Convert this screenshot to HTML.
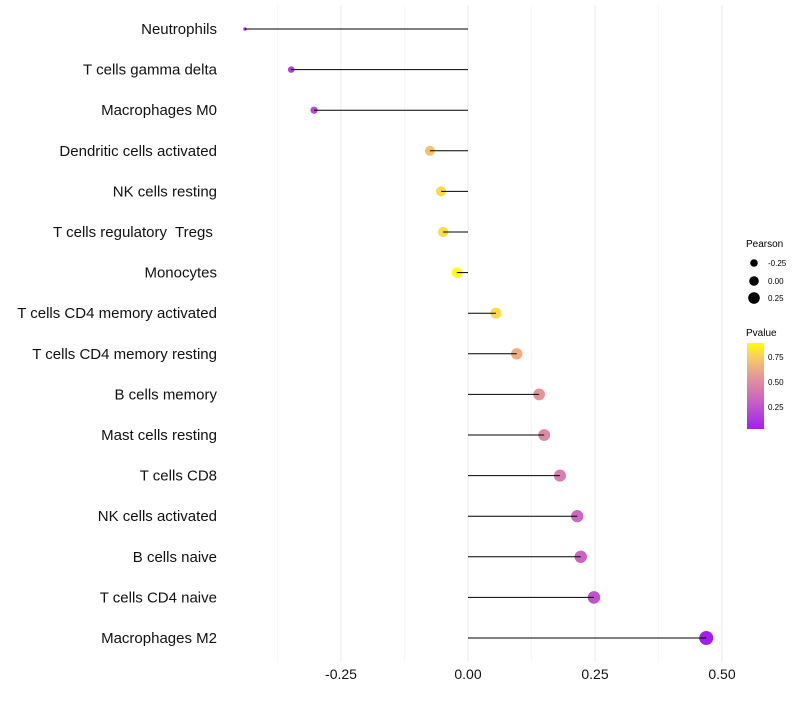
<!DOCTYPE html>
<html><head><meta charset="utf-8"><style>
body{margin:0;background:#fff;font-family:"Liberation Sans",sans-serif}
</style></head><body>
<svg id="chart" width="800" height="700" xmlns="http://www.w3.org/2000/svg">
<defs><linearGradient id="pg" x1="0" y1="1" x2="0" y2="0">
<stop offset="0" stop-color="#a020f0"/><stop offset="0.35" stop-color="#cc66c0"/><stop offset="0.6" stop-color="#e4959a"/><stop offset="0.85" stop-color="#f8d060"/><stop offset="1" stop-color="#ffff00"/></linearGradient></defs>
<g id="grid"></g>
<g id="marks"></g>
<g id="axes"></g>
<g font-size="10">
<text x="746" y="247" fill="#000">Pearson</text>
<circle cx="754" cy="263" r="3.8" fill="#000"/><text x="768" y="266" font-size="8">-0.25</text>
<circle cx="754" cy="281" r="4.8" fill="#000"/><text x="768" y="284" font-size="8">0.00</text>
<circle cx="754" cy="298" r="5.8" fill="#000"/><text x="768" y="301" font-size="8">0.25</text>
</g>
<g>
<text x="746" y="336" font-size="10">Pvalue</text>
<rect x="747" y="343" width="17" height="86" fill="url(#pg)"/>
<text x="768" y="360" font-size="8">0.75</text>
<text x="768" y="385" font-size="8">0.50</text>
<text x="768" y="410" font-size="8">0.25</text>
</g>
</svg>
<script>
const categories=["Neutrophils","T cells gamma delta","Macrophages M0","Dendritic cells activated","NK cells resting","T cells regulatory  Tregs ","Monocytes","T cells CD4 memory activated","T cells CD4 memory resting","B cells memory","Mast cells resting","T cells CD8","NK cells activated","B cells naive","T cells CD4 naive","Macrophages M2"];
const pearson=[-0.439,-0.348,-0.303,-0.075,-0.053,-0.049,-0.022,0.055,0.096,0.140,0.150,0.181,0.215,0.222,0.248,0.469];
const pvalues=[0.05,0.15,0.2,0.72,0.8,0.8,0.95,0.8,0.65,0.55,0.5,0.45,0.35,0.33,0.25,0.03];
const xTicks=[-0.25,0,0.25,0.5];
const xTickLabels=["-0.25","0.00","0.25","0.50"];
const xMinor=[-0.375,-0.125,0.125,0.375];
const NS="http://www.w3.org/2000/svg";
const x=v=>468+v*508;
const y=i=>29+i*40.6;
const r=v=>1.5+5.5*Math.sqrt(Math.max(0,(v+0.44)/0.91));
function col(p){const t=Math.max(0,Math.min(1,(p-0.04)/0.86));
 const st=[[0,[160,32,240]],[0.35,[204,102,192]],[0.6,[228,149,154]],[0.85,[248,208,96]],[1,[255,255,0]]];
 for(let k=1;k<st.length;k++){if(t<=st[k][0]){const a=st[k-1],b=st[k],f=(t-a[0])/(b[0]-a[0]);return "rgb("+a[1].map((c,j)=>Math.round(c+(b[1][j]-c)*f)).join(",")+")";}}return "rgb(255,255,0)";}
function mk(tag,attrs,parent){const e=document.createElementNS(NS,tag);for(const k in attrs)e.setAttribute(k,attrs[k]);parent.appendChild(e);return e;}
const grid=document.getElementById('grid'),marks=document.getElementById('marks'),axes=document.getElementById('axes');
xMinor.forEach(v=>{const l=mk('line',{x1:x(v),x2:x(v),y1:5,y2:662,stroke:'#f2f2f2','stroke-width':0.6},grid);

});
xTicks.forEach((v,i)=>{const l=mk('line',{x1:x(v),x2:x(v),y1:5,y2:662,stroke:'#ebebeb','stroke-width':1},grid);


const t=mk('text',{x:x(v),y:679,'text-anchor':'middle','font-size':14,fill:'#111'},axes);t.textContent=xTickLabels[i];

});
categories.forEach((c,i)=>{const t=mk('text',{x:217,y:y(i)+5,'text-anchor':'end','font-size':15,fill:'#111'},axes);t.textContent=c;
t.setAttribute('xml:space','preserve');
t.style.whiteSpace='pre';


const d=mk('circle',{cx:x(pearson[i]),cy:y(i),r:r(pearson[i]),fill:col(pvalues[i])},marks);


const l=mk('line',{x1:x(0),x2:x(pearson[i]),y1:y(i),y2:y(i),stroke:'#000','stroke-width':1},marks);

});
</script>
</body></html>
